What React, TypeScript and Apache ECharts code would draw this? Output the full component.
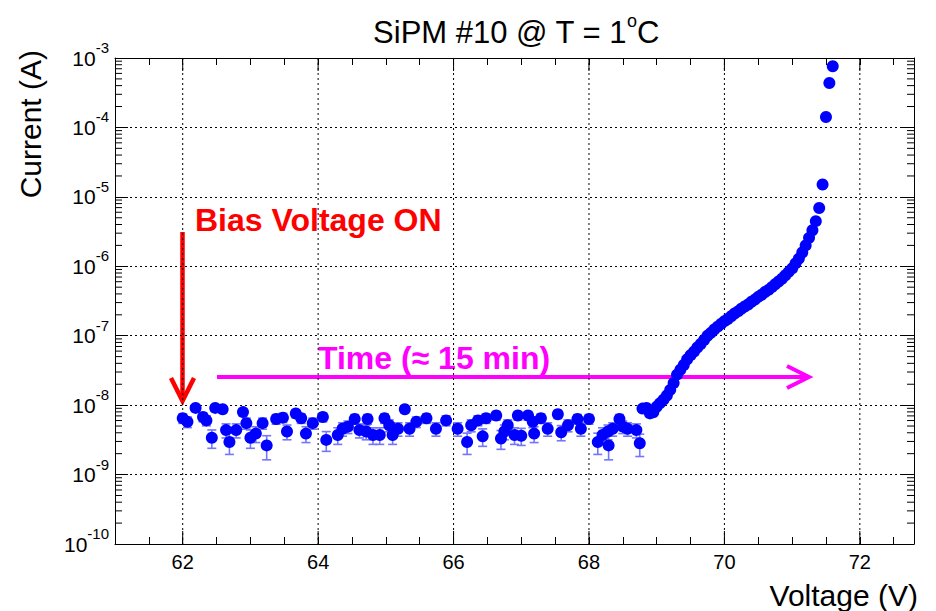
import React, { useEffect, useRef } from 'react';
import * as echarts from 'echarts';

// ---- data ----
const flatVoltage = [62.00, 62.07, 62.19, 62.30, 62.35, 62.43, 62.48, 62.59, 62.64, 62.69, 62.79, 62.89, 62.94, 63.00, 63.08, 63.18, 63.24, 63.38, 63.48, 63.54, 63.67, 63.75, 63.82, 63.92, 64.07, 64.12, 64.29, 64.36, 64.44, 64.54, 64.61, 64.71, 64.73, 64.81, 64.91, 64.98, 65.05, 65.10, 65.18, 65.28, 65.35, 65.45, 65.60, 65.74, 65.89, 66.06, 66.20, 66.26, 66.36, 66.43, 66.48, 66.63, 66.70, 66.75, 66.80, 66.90, 66.95, 67.00, 67.10, 67.17, 67.19, 67.29, 67.39, 67.54, 67.59, 67.69, 67.83, 67.88, 68.00, 68.13, 68.20, 68.28, 68.29, 68.35, 68.45, 68.50, 68.57, 68.70, 68.75, 68.79];
const flatCurrent = [6.46e-9, 5.75e-9, 9.12e-9, 6.76e-9, 6.03e-9, 3.39e-9, 9.12e-9, 8.71e-9, 4.37e-9, 2.95e-9, 4.37e-9, 7.94e-9, 5.50e-9, 3.39e-9, 3.89e-9, 5.50e-9, 2.63e-9, 6.31e-9, 6.61e-9, 4.17e-9, 7.59e-9, 6.46e-9, 3.89e-9, 5.50e-9, 6.76e-9, 3.16e-9, 3.72e-9, 4.57e-9, 4.90e-9, 6.31e-9, 4.37e-9, 4.17e-9, 6.31e-9, 3.72e-9, 3.72e-9, 6.46e-9, 5.13e-9, 3.72e-9, 4.57e-9, 8.71e-9, 4.57e-9, 5.75e-9, 6.46e-9, 4.57e-9, 6.03e-9, 4.57e-9, 2.95e-9, 5.13e-9, 6.03e-9, 3.55e-9, 6.46e-9, 7.08e-9, 3.31e-9, 4.17e-9, 5.13e-9, 3.72e-9, 7.08e-9, 3.63e-9, 7.08e-9, 5.75e-9, 3.89e-9, 6.46e-9, 4.57e-9, 7.41e-9, 4.07e-9, 5.13e-9, 6.31e-9, 4.57e-9, 6.31e-9, 2.95e-9, 3.72e-9, 4.17e-9, 2.63e-9, 4.57e-9, 6.31e-9, 4.90e-9, 4.57e-9, 4.37e-9, 2.82e-9, 8.91e-9];
const FLAT_ERR = 1.0e-9; // absolute current uncertainty in the dark-current plateau

const riseVoltage = [68.85, 68.90, 68.95, 69.00, 69.05, 69.10, 69.15, 69.20, 69.25, 69.30, 69.35, 69.40, 69.45, 69.50, 69.55, 69.60, 69.65, 69.70, 69.75, 69.80, 69.85, 69.90, 69.95, 70.00, 70.05, 70.10, 70.15, 70.20, 70.25, 70.30, 70.35, 70.40, 70.45, 70.50, 70.55, 70.60, 70.65, 70.70, 70.75, 70.80, 70.85, 70.90, 70.95, 71.00, 71.05, 71.10, 71.15, 71.20, 71.25, 71.30, 71.35, 71.40, 71.45, 71.50, 71.55, 71.60];
const riseCurrent = [9.1e-9, 7.6e-9, 7.9e-9, 9.5e-9, 1.07e-8, 1.20e-8, 1.38e-8, 1.66e-8, 2.09e-8, 2.75e-8, 3.24e-8, 3.80e-8, 4.57e-8, 5.25e-8, 5.89e-8, 6.76e-8, 7.59e-8, 8.71e-8, 1.00e-7, 1.10e-7, 1.23e-7, 1.35e-7, 1.48e-7, 1.62e-7, 1.74e-7, 1.91e-7, 2.09e-7, 2.24e-7, 2.45e-7, 2.63e-7, 2.82e-7, 3.09e-7, 3.31e-7, 3.63e-7, 3.89e-7, 4.27e-7, 4.57e-7, 5.01e-7, 5.50e-7, 6.03e-7, 6.61e-7, 7.41e-7, 8.32e-7, 9.33e-7, 1.10e-6, 1.29e-6, 1.58e-6, 2.00e-6, 2.57e-6, 3.31e-6, 4.47e-6, 6.92e-6, 1.51e-5, 1.41e-4, 4.37e-4, 7.59e-4];

const xMajorTicks = [62, 64, 66, 68, 70, 72];
const yDecadeExponents = [-10, -9, -8, -7, -6, -5, -4];
const yMinorMultipliers = [2, 3, 4, 5, 6, 7, 8, 9];

const X_MIN = 61;
const X_MAX = 72.8;
const Y_MIN = 1e-10;
const Y_MAX = 1e-3;

const FONT = '"Liberation Sans", Arial, Helvetica, sans-serif';

export default function App() {
  const ref = useRef<HTMLDivElement>(null);

  useEffect(() => {
    if (!ref.current) return;
    const chart = echarts.init(ref.current, null, { renderer: 'svg' });

    const points: number[][] = [];
    flatVoltage.forEach((v, i) => points.push([v, flatCurrent[i]]));
    riseVoltage.forEach((v, i) => points.push([v, riseCurrent[i]]));

    const errData = flatVoltage.map((v, i) => [v, flatCurrent[i], FLAT_ERR]);

    // tick / grid helper items: [x, y, kind]
    const tickData: number[][] = [];
    yDecadeExponents.forEach((e) => {
      yMinorMultipliers.forEach((m) => tickData.push([X_MIN, m * Math.pow(10, e), 0]));
    });
    xMajorTicks.forEach((v) => tickData.push([v, 1e-6, 1]));

    const MINOR = 7;
    const MAJOR = 13;

    const option: any = {
      animation: false,
      grid: { left: 115, right: 22, top: 58, bottom: 67, containLabel: false },
      xAxis: [
        {
          type: 'value',
          min: X_MIN,
          max: X_MAX,
          interval: 0.5,
          axisLine: { show: true, lineStyle: { color: '#000', width: 1 } },
          axisTick: { show: true, inside: true, length: MINOR, lineStyle: { color: '#000' } },
          splitLine: { show: false },
          axisLabel: {
            show: true,
            margin: 8,
            color: '#000',
            fontSize: 20,
            fontFamily: FONT,
            formatter: (v: number) => {
              const r = Math.round(v);
              if (Math.abs(v - r) < 1e-6 && r % 2 === 0) return String(r);
              return '';
            },
          },
        },
        {
          type: 'value',
          position: 'top',
          min: X_MIN,
          max: X_MAX,
          interval: 0.5,
          axisLine: { show: true, lineStyle: { color: '#000', width: 1 } },
          axisTick: { show: true, inside: true, length: MINOR, lineStyle: { color: '#000' } },
          splitLine: { show: false },
          axisLabel: { show: false },
        },
      ],
      yAxis: [
        {
          type: 'log',
          logBase: 10,
          min: Y_MIN,
          max: Y_MAX,
          splitNumber: 7,
          axisLine: { show: true, lineStyle: { color: '#000', width: 1 } },
          axisTick: { show: true, inside: true, length: MAJOR, lineStyle: { color: '#000' } },
          splitLine: { show: true, lineStyle: { color: '#000', width: 1, type: [2, 3] } },
          axisLabel: {
            show: true,
            margin: 6,
            formatter: (v: number) => {
              const e = Math.round(Math.log10(v));
              return '{b|10}{s|' + e + '}';
            },
            rich: {
              b: { fontSize: 21, fontFamily: FONT, color: '#000', lineHeight: 36 },
              s: { fontSize: 15, fontFamily: FONT, color: '#000', verticalAlign: 'top', lineHeight: 15 },
            },
          },
        },
        {
          type: 'log',
          logBase: 10,
          position: 'right',
          min: Y_MIN,
          max: Y_MAX,
          splitNumber: 7,
          axisLine: { show: true, lineStyle: { color: '#000', width: 1 } },
          axisTick: { show: true, inside: true, length: MAJOR, lineStyle: { color: '#000' } },
          splitLine: { show: false },
          axisLabel: { show: false },
        },
      ],
      series: [
        {
          type: 'custom',
          name: 'ticks',
          silent: true,
          clip: false,
          xAxisIndex: 0,
          yAxisIndex: 0,
          encode: { x: 0, y: 1 },
          data: tickData,
          z: 1,
          renderItem: (params: any, api: any) => {
            const cs = params.coordSys;
            const kind = api.value(2);
            if (kind === 0) {
              const y = api.coord([X_MIN, api.value(1)])[1];
              return {
                type: 'group',
                children: [
                  { type: 'line', shape: { x1: cs.x, y1: y, x2: cs.x + MINOR, y2: y }, style: { stroke: '#000', lineWidth: 1 } },
                  { type: 'line', shape: { x1: cs.x + cs.width, y1: y, x2: cs.x + cs.width - MINOR, y2: y }, style: { stroke: '#000', lineWidth: 1 } },
                ],
              };
            }
            const x = api.coord([api.value(0), 1e-6])[0];
            return {
              type: 'group',
              children: [
                { type: 'line', shape: { x1: x, y1: cs.y, x2: x, y2: cs.y + cs.height }, style: { stroke: '#000', lineWidth: 1, lineDash: [2, 3] } },
                { type: 'line', shape: { x1: x, y1: cs.y + cs.height, x2: x, y2: cs.y + cs.height - MAJOR }, style: { stroke: '#000', lineWidth: 1 } },
                { type: 'line', shape: { x1: x, y1: cs.y, x2: x, y2: cs.y + MAJOR }, style: { stroke: '#000', lineWidth: 1 } },
              ],
            };
          },
        },
        {
          type: 'custom',
          name: 'errors',
          silent: true,
          xAxisIndex: 0,
          yAxisIndex: 0,
          encode: { x: 0, y: 1 },
          data: errData,
          z: 2,
          renderItem: (params: any, api: any) => {
            const v = api.value(0);
            const c = api.value(1);
            const e = api.value(2);
            const top = api.coord([v, c + e]);
            const bot = api.coord([v, c - e]);
            const hw = 4.5;
            const st = { stroke: '#7474ff', lineWidth: 1.6 };
            return {
              type: 'group',
              children: [
                { type: 'line', shape: { x1: top[0], y1: top[1], x2: bot[0], y2: bot[1] }, style: st },
                { type: 'line', shape: { x1: top[0] - hw, y1: top[1], x2: top[0] + hw, y2: top[1] }, style: st },
                { type: 'line', shape: { x1: bot[0] - hw, y1: bot[1], x2: bot[0] + hw, y2: bot[1] }, style: st },
              ],
            };
          },
        },
        {
          type: 'scatter',
          name: 'I-V',
          xAxisIndex: 0,
          yAxisIndex: 0,
          symbol: 'circle',
          symbolSize: 12,
          itemStyle: { color: '#0000ff', opacity: 1 },
          data: points,
          z: 3,
        },
      ],
      graphic: [
        {
          type: 'text',
          x: 516,
          y: 32,
          style: {
            text: '{a|SiPM #10 @ T = 1}{o|o}{a|C}',
            align: 'center',
            verticalAlign: 'middle',
            rich: {
              a: { fontSize: 31, fontFamily: FONT, fill: '#000', lineHeight: 40 },
              o: { fontSize: 18, fontFamily: FONT, fill: '#000', verticalAlign: 'top', lineHeight: 18 },
            },
          },
        },
        {
          type: 'text',
          x: 30,
          y: 50,
          rotation: Math.PI / 2,
          style: {
            text: 'Current (A)',
            align: 'right',
            verticalAlign: 'middle',
            fontSize: 30,
            fontFamily: FONT,
            fill: '#000',
          },
        },
        {
          type: 'text',
          x: 918,
          y: 595,
          style: {
            text: 'Voltage (V)',
            align: 'right',
            verticalAlign: 'middle',
            fontSize: 30,
            fontFamily: FONT,
            fill: '#000',
          },
        },
        {
          type: 'text',
          x: 195,
          y: 220,
          style: {
            text: 'Bias Voltage ON',
            align: 'left',
            verticalAlign: 'middle',
            fontSize: 32,
            fontWeight: 'bold',
            fontFamily: FONT,
            fill: '#ff0000',
          },
        },
        {
          type: 'line',
          shape: { x1: 182.5, y1: 232, x2: 182.5, y2: 399 },
          style: { stroke: '#ff0000', lineWidth: 4.5 },
        },
        {
          type: 'polyline',
          shape: { points: [[171, 378], [182.5, 401], [194, 378]] },
          style: { stroke: '#ff0000', lineWidth: 4.5, fill: null },
        },
        {
          type: 'text',
          x: 318,
          y: 358,
          style: {
            text: 'Time (\u2248 15 min)',
            align: 'left',
            verticalAlign: 'middle',
            fontSize: 32,
            fontWeight: 'bold',
            fontFamily: FONT,
            fill: '#ff00ff',
          },
        },
        {
          type: 'line',
          shape: { x1: 217, y1: 377, x2: 807, y2: 377 },
          style: { stroke: '#ff00ff', lineWidth: 4 },
        },
        {
          type: 'polyline',
          shape: { points: [[787, 366], [809, 377], [787, 388]] },
          style: { stroke: '#ff00ff', lineWidth: 4, fill: null },
        },
      ],
    };

    chart.setOption(option);
    return () => chart.dispose();
  }, []);

  return (
    <div
      ref={ref}
      style={{ position: 'absolute', left: 0, top: 0, width: 936, height: 611 }}
    />
  );
}
